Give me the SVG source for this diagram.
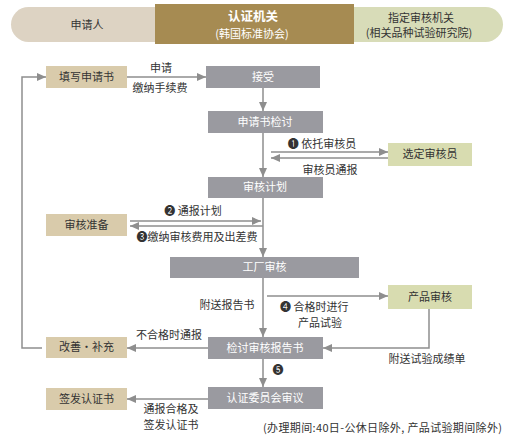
<svg xmlns="http://www.w3.org/2000/svg" width="515" height="445" viewBox="0 0 515 445">
<defs>
<marker id="ah" markerWidth="9" markerHeight="8" refX="9" refY="4" orient="auto" markerUnits="userSpaceOnUse">
<path d="M0,0 L9,4 L0,8 z" fill="#8e8e8e"/>
</marker>
<style>
text{font-family:"Noto Sans CJK SC","Noto Sans",sans-serif;font-size:11px;fill:#333;}
.c{text-anchor:middle;}
.w{fill:#fff;}
.g{fill:#9a9aa0;}
.t{fill:#d9cbab;}
.v{fill:#d8dcb0;}
.ln{stroke:#8e8e8e;stroke-width:1.5;fill:none;}
.a{marker-end:url(#ah);}
</style>
</defs>
<rect width="515" height="445" fill="#fff"/>
<g id="header">
<rect x="11" y="7" width="170" height="35" rx="17.5" fill="#ddd3c3"/>
<rect x="330" y="7" width="173" height="35" rx="17.5" fill="#d8dcb8"/>
<rect x="155" y="4" width="199" height="40" fill="#a68b52"/>
<text class="c" x="87" y="29">申请人</text>
<text class="c w" x="253" y="21" style="font-size:12.5px;font-weight:bold">认证机关</text>
<text class="c w" x="252" y="38">(韩国标准协会)</text>
<text class="c" x="421" y="22">指定审核机关</text>
<text class="c" x="419" y="37">(相关品种试验研究院)</text>
</g>
<g id="n_fill"><rect class="t" x="46" y="66" width="81" height="22"/><text class="c" x="86.5" y="81">填写申请书</text></g>
<g id="n_accept"><rect class="g" x="206" y="66" width="114" height="22"/><text class="c w" x="263" y="81">接受</text></g>
<g id="n_review"><rect class="g" x="208" y="111" width="115" height="22"/><text class="c w" x="265" y="126">申请书检讨</text></g>
<g id="n_select"><rect class="v" x="388" y="143" width="84" height="23"/><text class="c" x="430" y="158">选定审核员</text></g>
<g id="n_plan"><rect class="g" x="208" y="177" width="115" height="21"/><text class="c w" x="265" y="191">审核计划</text></g>
<g id="n_prep"><rect class="t" x="46" y="214" width="81" height="22"/><text class="c" x="86.5" y="229">审核准备</text></g>
<g id="n_factory"><rect class="g" x="170" y="257" width="189" height="21"/><text class="c w" x="264.5" y="271">工厂审核</text></g>
<g id="n_product"><rect class="v" x="388" y="285" width="84" height="24"/><text class="c" x="430" y="301">产品审核</text></g>
<g id="n_improve"><rect class="t" x="46" y="337" width="81" height="21"/><text class="c" x="86.5" y="351">改善·补充</text></g>
<g id="n_report"><rect class="g" x="208" y="337" width="115" height="22"/><text class="c w" x="265" y="352">检讨审核报告书</text></g>
<g id="n_cert"><rect class="t" x="46" y="388" width="81" height="22"/><text class="c" x="86.5" y="403">签发认证书</text></g>
<g id="n_committee"><rect class="g" x="208" y="387" width="115" height="22"/><text class="c w" x="265" y="402">认证委员会审议</text></g>
<g id="connectors">
<line class="ln a" x1="127" y1="77" x2="206" y2="77"/>
<line class="ln a" x1="263" y1="88" x2="263" y2="111"/>
<line class="ln a" x1="263" y1="133" x2="263" y2="177"/>
<line class="ln a" x1="271" y1="152" x2="388" y2="152"/>
<line class="ln a" x1="388" y1="158" x2="271" y2="158"/>
<line class="ln a" x1="263" y1="198" x2="263" y2="257"/>
<line class="ln a" x1="130" y1="221" x2="261" y2="221"/>
<line class="ln a" x1="263" y1="226" x2="130" y2="226"/>
<line class="ln a" x1="263" y1="278" x2="263" y2="337"/>
<line class="ln a" x1="267" y1="296" x2="388" y2="296"/>
<path class="ln a" d="M429 309 V348 H323"/>
<line class="ln a" x1="208" y1="348" x2="127" y2="348"/>
<line class="ln a" x1="263" y1="359" x2="263" y2="387"/>
<line class="ln a" x1="208" y1="399" x2="127" y2="399"/>
<path class="ln a" d="M42 348 H22 V77 H46"/>
</g>
<g id="labels">
<text class="c" x="161" y="72">申请</text>
<text class="c" x="160" y="92">缴纳手续费</text>
<text class="c" x="322" y="148">❶ 依托审核员</text>
<text class="c" x="330" y="174">审核员通报</text>
<text class="c" x="193" y="215">❷ 通报计划</text>
<text class="c" x="197" y="241">❸缴纳审核费用及出差费</text>
<text class="c" x="227" y="309">附送报告书</text>
<text x="280" y="311">❹ 合格时进行</text>
<text x="298" y="327">产品试验</text>
<text class="c" x="427" y="363">附送试验成绩单</text>
<text class="c" x="169" y="339">不合格时通报</text>
<text class="c" x="278" y="374">❺</text>
<text class="c" x="171" y="413">通报合格及</text>
<text class="c" x="171" y="429">签发认证书</text>
<text x="263" y="432" textLength="239" lengthAdjust="spacing" style="font-size:11px">(办理期间:40日-公休日除外, 产品试验期间除外)</text>
</g>
</svg>
